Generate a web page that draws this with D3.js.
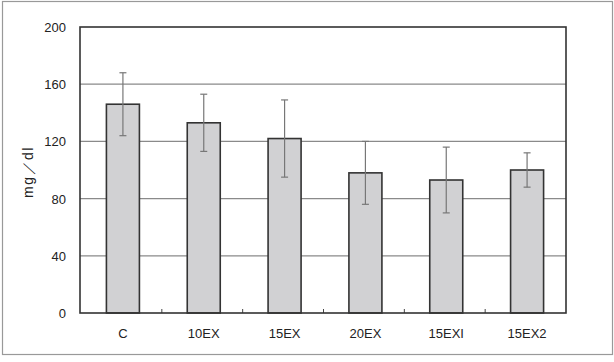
<!DOCTYPE html>
<html>
<head>
<meta charset="utf-8">
<script src="https://cdn.jsdelivr.net/npm/d3@7"></script>
<style>
  body { margin: 0; background: #fff; }
  text { font-family: "Liberation Sans", Arial, sans-serif; fill: #222; }
</style>
</head>
<body>
<div id="chart"></div>
<script>
// Values
const groups = ["C", "10EX", "15EX", "20EX", "15EXI", "15EX2"];
const means = [146, 133, 122, 98, 93, 100];
const sds = [22, 20, 27, 22, 23, 12];
const yTicks = [0, 40, 80, 120, 160, 200];

const width = 614, height = 362;
const plot = { left: 80, top: 27, right: 566, bottom: 313 };

const svg = d3.select("#chart").append("svg")
    .attr("width", width)
    .attr("height", height);

// Outer frame
svg.append("rect")
    .attr("x", 2.5).attr("y", 1.5)
    .attr("width", 610).attr("height", 353)
    .attr("fill", "none")
    .attr("stroke", "#999")
    .attr("stroke-width", 1.2);

const x = d3.scaleBand()
    .domain(groups)
    .range([plot.left + 1, plot.right]);

const y = d3.scaleLinear()
    .domain([0, 200])
    .range([plot.bottom, plot.top]);

const barW = 33;

// Grid lines
svg.append("g")
    .selectAll("line")
    .data(yTicks.filter(t => t > 0 && t < 200))
    .enter()
    .append("line")
    .attr("x1", plot.left).attr("x2", plot.right)
    .attr("y1", d => y(d)).attr("y2", d => y(d))
    .attr("stroke", "#8a8a8a")
    .attr("stroke-width", 1.2);

// Category ticks on the baseline (between groups)
svg.append("g")
    .selectAll("line")
    .data(groups.slice(1))
    .enter()
    .append("line")
    .attr("x1", d => x(d)).attr("x2", d => x(d))
    .attr("y1", plot.bottom).attr("y2", plot.bottom - 4)
    .attr("stroke", "#444")
    .attr("stroke-width", 1);

// Bars
svg.append("g")
    .selectAll("rect")
    .data(groups)
    .enter()
    .append("rect")
    .attr("x", d => x(d) + (x.bandwidth() - barW) / 2 + 1.5)
    .attr("y", (d, i) => y(means[i]))
    .attr("width", barW)
    .attr("height", (d, i) => y(0) - y(means[i]))
    .attr("fill", "#d1d1d3")
    .attr("stroke", "#333")
    .attr("stroke-width", 1.6);

// Error bars
const errG = svg.append("g")
    .attr("stroke", "#777")
    .attr("stroke-width", 1.2);
groups.forEach((g, i) => {
    const cx = x(g) + x.bandwidth() / 2 + 1.5;
    const top = y(means[i] + sds[i]), bot = y(means[i] - sds[i]);
    errG.append("line").attr("x1", cx).attr("x2", cx).attr("y1", top).attr("y2", bot);
    errG.append("line").attr("x1", cx - 3.5).attr("x2", cx + 3.5).attr("y1", top).attr("y2", top);
    errG.append("line").attr("x1", cx - 3.5).attr("x2", cx + 3.5).attr("y1", bot).attr("y2", bot);
});

// Plot frame
svg.append("rect")
    .attr("x", plot.left).attr("y", plot.top)
    .attr("width", plot.right - plot.left)
    .attr("height", plot.bottom - plot.top)
    .attr("fill", "none")
    .attr("stroke", "#333")
    .attr("stroke-width", 1.6);

// Y tick labels
svg.append("g")
    .selectAll("text")
    .data(yTicks)
    .enter()
    .append("text")
    .attr("x", 66)
    .attr("y", d => y(d) + 5)
    .attr("text-anchor", "end")
    .attr("font-size", 13)
    .text(d => d);

// X labels
svg.append("g")
    .selectAll("text")
    .data(groups)
    .enter()
    .append("text")
    .attr("x", d => x(d) + x.bandwidth() / 2 + 1.5)
    .attr("y", 338)
    .attr("text-anchor", "middle")
    .attr("font-size", 13)
    .text(d => d);

// Y axis title
svg.append("text")
    .attr("transform", "translate(33,172) rotate(-90)")
    .attr("text-anchor", "middle")
    .attr("font-size", 14)
    .attr("letter-spacing", 1.5)
    .text("mg／dl");
</script>
</body>
</html>
